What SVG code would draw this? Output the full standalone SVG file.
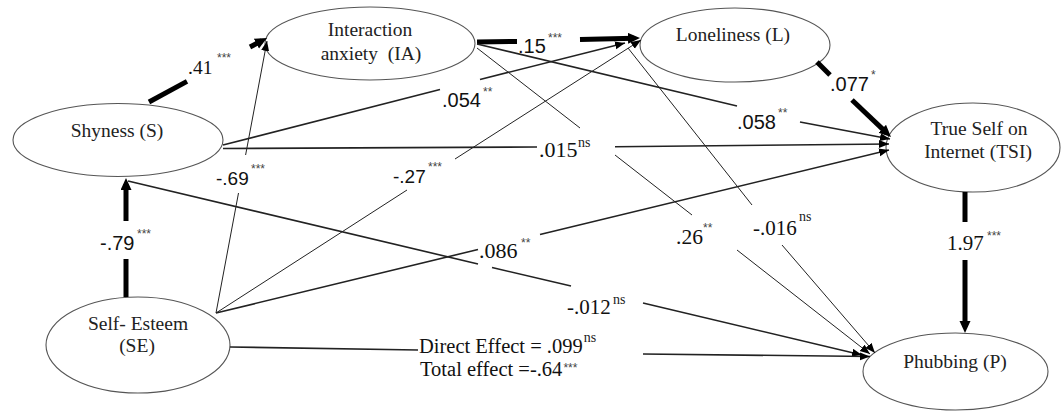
<svg xmlns="http://www.w3.org/2000/svg" width="1061" height="411" viewBox="0 0 1061 411">
<style>
.bg{fill:#fff}
.ell{fill:#fff;stroke:#555;stroke-width:1.1}
.node{font-family:"Liberation Serif","Times New Roman",serif;font-size:19.5px;fill:#222;text-anchor:middle}
.pre{white-space:pre}
.thin{stroke:#222;stroke-width:1;fill:none}
.med{stroke:#222;stroke-width:1.6;fill:none}
.thick{stroke:#000;stroke-width:5;fill:none}
.ls{font-family:"Liberation Sans",Arial,sans-serif;fill:#111}
.sf{font-family:"Liberation Serif","Times New Roman",serif;fill:#111}
.star{font-family:"Liberation Sans",Arial,sans-serif;font-size:12px;fill:#444}
.ns{font-family:"Liberation Serif",serif;font-size:14px;fill:#222}
</style>
<defs>
<marker id="ah" markerUnits="userSpaceOnUse" markerWidth="11" markerHeight="9" refX="10" refY="4" orient="auto">
<path d="M0,0 L10,4 L0,8 z" fill="#000"/>
</marker>
<marker id="ahT" markerUnits="userSpaceOnUse" markerWidth="13" markerHeight="12" refX="6" refY="5.5" orient="auto">
<path d="M0,0 L12,5.5 L0,11 z" fill="#000"/>
</marker>
</defs>
<rect class="bg" x="0" y="0" width="1061" height="411"/>

<g id="nodes">
<g id="node-S">
<ellipse class="ell" cx="118" cy="140" rx="105" ry="36.5"/>
<text class="node" x="117" y="137">Shyness (S)</text>
</g>
<g id="node-IA">
<ellipse class="ell" cx="370" cy="43.5" rx="105" ry="36.5"/>
<text class="node" x="370" y="36">Interaction</text>
<text class="node pre" x="371" y="60" xml:space="preserve">anxiety  (IA)</text>
</g>
<g id="node-L">
<ellipse class="ell" cx="735" cy="45" rx="95" ry="37"/>
<text class="node" x="733" y="41">Loneliness (L)</text>
</g>
<g id="node-TSI">
<ellipse class="ell" cx="973" cy="147.5" rx="87" ry="44.5"/>
<text class="node" x="979" y="135">True Self on</text>
<text class="node" x="978" y="158">Internet (TSI)</text>
</g>
<g id="node-P">
<ellipse class="ell" cx="955.5" cy="371.5" rx="92.5" ry="38.5"/>
<text class="node" x="955" y="368">Phubbing (P)</text>
</g>
<g id="node-SE">
<ellipse class="ell" cx="138" cy="345" rx="92" ry="48"/>
<text class="node" x="138" y="330">Self- Esteem</text>
<text class="node" x="137" y="352">(SE)</text>
</g>
</g>

<g id="connectors">
<!-- S -> IA (.41) -->
<line class="thick" x1="149" y1="102" x2="187" y2="81.4"/>
<line class="thick" x1="250" y1="47" x2="261.7" y2="40.8" marker-end="url(#ahT)"/>
<!-- SE -> S (-.79) -->
<line class="thick" x1="126" y1="297" x2="126" y2="259"/>
<line class="thick" x1="126" y1="221" x2="126" y2="184" marker-end="url(#ahT)"/>
<!-- SE -> IA (-.69) -->
<line class="thin" x1="216" y1="313" x2="238.5" y2="193"/>
<line class="thin" x1="245.6" y1="155" x2="267" y2="41" marker-end="url(#ah)"/>
<!-- SE -> L (-.27) -->
<line class="thin" x1="216" y1="313" x2="407" y2="190"/>
<line class="thin" x1="455" y1="159" x2="641" y2="40" marker-end="url(#ah)"/>
<!-- SE -> TSI (.086) -->
<line class="med" x1="216" y1="313" x2="478" y2="249.5"/>
<line class="med" x1="540" y1="234.5" x2="889" y2="150" marker-end="url(#ah)"/>
<!-- S -> P (-.012) -->
<line class="med" x1="128" y1="181" x2="478" y2="264"/>
<line class="med" x1="492" y1="267.5" x2="571" y2="286"/>
<line class="med" x1="643" y1="303" x2="862" y2="355" marker-end="url(#ah)"/>
<!-- SE -> P (direct) -->
<line class="med" x1="230" y1="347" x2="418" y2="350"/>
<line class="med" x1="643" y1="354" x2="870" y2="356.5" marker-end="url(#ah)"/>
<!-- S -> TSI (.015) -->
<line class="med" x1="223" y1="148.5" x2="537" y2="147"/>
<line class="med" x1="615" y1="146.8" x2="889" y2="144" marker-end="url(#ah)"/>
<!-- S -> L (.054) -->
<line class="med" x1="223" y1="145" x2="440" y2="89.5"/>
<line class="med" x1="480" y1="79.5" x2="625" y2="43" marker-end="url(#ah)"/>
<!-- IA -> L (.15) -->
<line class="thick" x1="477" y1="42" x2="517" y2="41.5"/>
<line class="thick" x1="580" y1="39.5" x2="634" y2="38.2" marker-end="url(#ahT)"/>
<!-- IA -> TSI (.058) -->
<line class="med" x1="477" y1="44" x2="737" y2="106"/>
<line class="med" x1="800" y1="122" x2="890" y2="139" marker-end="url(#ah)"/>
<!-- IA -> P (.26) -->
<line class="thin" x1="477" y1="48" x2="580" y2="128"/>
<line class="thin" x1="615" y1="155" x2="692" y2="215"/>
<line class="thin" x1="737" y1="250" x2="870" y2="354" marker-end="url(#ah)"/>
<!-- L -> P (-.016) -->
<line class="thin" x1="628" y1="48" x2="752" y2="205"/>
<line class="thin" x1="782" y1="245" x2="875" y2="353" marker-end="url(#ah)"/>
<!-- L -> TSI (.077) -->
<line class="thick" x1="817" y1="62" x2="830" y2="75"/>
<line class="thick" x1="852" y1="100" x2="886.6" y2="132.9" marker-end="url(#ahT)"/>
<!-- TSI -> P (1.97) -->
<line class="thick" x1="965" y1="192" x2="965" y2="222"/>
<line class="thick" x1="965" y1="260" x2="965" y2="327" marker-end="url(#ahT)"/>
</g>

<g id="edge-labels">
<text class="sf" font-size="19.5" x="188" y="74">.41<tspan class="star" x="217" y="62">***</tspan></text>
<text class="ls" font-size="20" x="100" y="250">-.79<tspan class="star" x="137" y="238">***</tspan></text>
<text class="ls" font-size="19" x="216" y="185">-.69<tspan class="star" x="251" y="173">***</tspan></text>
<text class="ls" font-size="19" x="393" y="183">-.27<tspan class="star" x="428" y="171">***</tspan></text>
<text class="ls" font-size="20" x="518" y="53">.15<tspan class="star" x="548" y="42">***</tspan></text>
<text class="ls" font-size="20" x="442" y="107">.054<tspan class="star" x="483" y="96">**</tspan></text>
<text class="sf" font-size="22" x="539" y="157">.015<tspan class="ns" x="578" y="147">ns</tspan></text>
<text class="ls" font-size="20" x="737" y="129">.058<tspan class="star" x="778" y="117">**</tspan></text>
<text class="ls" font-size="20" x="830" y="91">.077<tspan class="star" x="871" y="79">*</tspan></text>
<text class="sf" font-size="21" x="947" y="250">1.97<tspan class="star" x="987" y="240">***</tspan></text>
<text class="sf" font-size="22" x="479" y="258">.086<tspan class="star" x="521" y="247">**</tspan></text>
<text class="sf" font-size="21.5" x="676" y="244">.26<tspan class="star" x="703" y="232">**</tspan></text>
<text class="sf" font-size="21" x="753" y="235">-.016<tspan class="ns" x="799" y="221">ns</tspan></text>
<text class="sf" font-size="21" x="567" y="314">-.012<tspan class="ns" x="613" y="304">ns</tspan></text>
<text class="sf" font-size="20.5" x="419" y="353">Direct Effect = .099<tspan class="ns" dx="1" dy="-11">ns</tspan></text>
<text class="sf" font-size="20.5" x="420" y="376">Total effect =-.64<tspan class="star" dx="1" dy="-4">***</tspan></text>
</g>
</svg>
